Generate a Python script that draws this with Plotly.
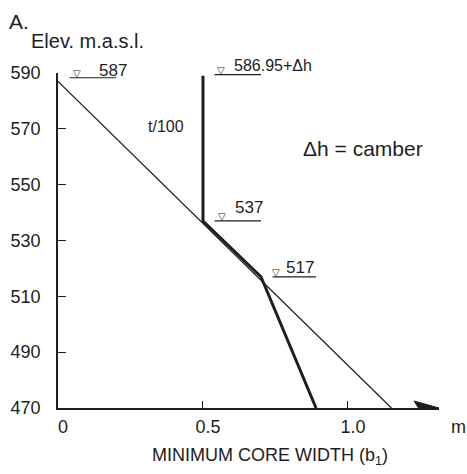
import plotly.graph_objects as go

# ---- data ----
thin_x = [0.0, 1.15]
thin_z = [587, 470]

core_x = [0.5, 0.5, 0.70, 0.89]
core_z = [589, 537, 517, 470]

y_ticks = [470, 490, 510, 530, 550, 570, 590]
x_ticks = [0, 0.5, 1.0]
x_ticktext = ["0", "0.5", "1.0"]

level_labels = ["587", "586.95+Δh", "537", "517"]
level_z = [588.3, 589.4, 537, 517]
level_x0 = [0.04, 0.54, 0.54, 0.74]
level_x1 = [0.20, 0.70, 0.70, 0.89]
label_x = [0.188, 0.74, 0.657, 0.834]
label_dy = [-4, -1, 2, -2]
tri_x = [0.066, 0.562, 0.566, 0.752]

FONT = "Liberation Sans, Arial, Helvetica, sans-serif"
INK = "#1e1e1e"

fig = go.Figure()

fig.add_trace(go.Scatter(x=thin_x, y=thin_z, mode="lines",
                         line=dict(color=INK, width=1.3), showlegend=False, cliponaxis=False))
fig.add_trace(go.Scatter(x=core_x, y=core_z, mode="lines",
                         line=dict(color=INK, width=3), showlegend=False, cliponaxis=False))

# water-level symbols
for lab, z, x0, x1, lx, dy, tx in zip(level_labels, level_z, level_x0, level_x1,
                                      label_x, label_dy, tri_x):
    fig.add_trace(go.Scatter(x=[x0, x1], y=[z, z], mode="lines",
                             line=dict(color=INK, width=1.2), showlegend=False, cliponaxis=False))
    fig.add_annotation(x=tx, y=z, xref="x", yref="y", text="▽", showarrow=False,
                       xanchor="center", yanchor="middle", yshift=4,
                       font=dict(family="DejaVu Sans", size=10, color=INK))
    fig.add_annotation(x=lx, y=z, xref="x", yref="y", text=lab,
                       showarrow=False, xanchor="center", yanchor="bottom", yshift=dy,
                       font=dict(family=FONT, size=17 if len(lab) < 5 else 16, color=INK))

# axis arrow head
fig.add_shape(type="path", xref="x", yref="y",
              path="M 1.228,467.5 L 1.314,470 L 1.228,472.5 L 1.243,470 Z",
              fillcolor=INK, line=dict(color=INK, width=1))

fig.add_annotation(x=0.44, y=571, xref="x", yref="y", text="t/100", showarrow=False,
                   xanchor="right", font=dict(family=FONT, size=16, color=INK))
fig.add_annotation(x=1.265, y=563, xref="x", yref="y", text="Δh = camber", showarrow=False,
                   xanchor="right", font=dict(family=FONT, size=21, color=INK))

fig.add_annotation(x=-0.135, y=1.153, xref="paper", yref="paper", text="A.", showarrow=False,
                   xanchor="left", yanchor="middle", font=dict(family=FONT, size=21, color=INK))
fig.add_annotation(x=-0.075, y=1.095, xref="paper", yref="paper", text="Elev. m.a.s.l.",
                   showarrow=False, xanchor="left", yanchor="middle",
                   font=dict(family=FONT, size=20, color=INK))
fig.add_annotation(x=1.05, y=-0.058, xref="paper", yref="paper", text="m", showarrow=False,
                   xanchor="center", yanchor="middle", font=dict(family=FONT, size=18, color=INK))
fig.add_annotation(x=0.556, y=-0.146, xref="paper", yref="paper",
                   text="MINIMUM CORE WIDTH (b<sub>1</sub>)", showarrow=False,
                   xanchor="center", yanchor="middle", font=dict(family=FONT, size=18, color=INK))

fig.update_xaxes(range=[0, 1.314], showline=True, linecolor=INK, linewidth=1.5,
                 showgrid=False, zeroline=False, tickvals=x_ticks, ticktext=x_ticktext,
                 ticks="inside", ticklen=7, tickwidth=1, tickcolor=INK, automargin=False,
                 tickfont=dict(family=FONT, size=18, color=INK), ticklabelstandoff=2,
                 ticklabelshift=5)
fig.update_yaxes(range=[470, 590], showline=True, linecolor=INK, linewidth=1.5,
                 showgrid=False, zeroline=False, tickvals=y_ticks, automargin=False,
                 ticks="inside", ticklen=8, tickwidth=1, tickcolor=INK,
                 tickfont=dict(family=FONT, size=18, color=INK), ticklabelstandoff=12)

fig.update_layout(width=467, height=474, margin=dict(l=58, r=28, t=73, b=66),
                  plot_bgcolor="white", paper_bgcolor="white", showlegend=False)

fig.write_html("out.html", config={"displayModeBar": False},
               post_script="document.body.style.margin='0';document.body.style.overflow='hidden';")
